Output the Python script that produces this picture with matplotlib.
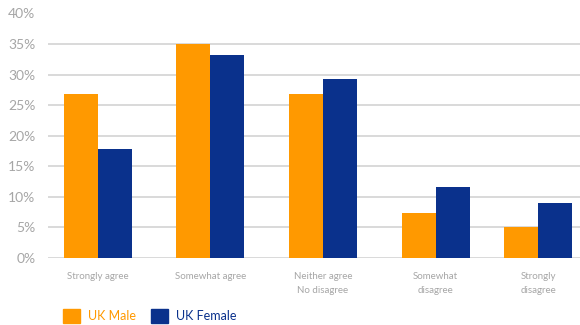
import numpy as np
import matplotlib.pyplot as plt
from matplotlib.patches import Patch

# survey responses, share of respondents (%)
categories = ['Strongly agree', 'Somewhat agree', 'Neither agree\nNo disagree',
              'Somewhat\ndisagree', 'Strongly\ndisagree']
uk_male = [26.8, 35.0, 26.8, 7.4, 5.1]
uk_female = [17.8, 33.2, 29.3, 11.6, 9.0]

orange = '#FF9900'
blue = '#0A318C'
grey_text = '#A6A6A6'

plt.rcParams['font.family'] = ['Lato', 'DejaVu Sans']

fig = plt.figure(figsize=(5.8, 3.25), dpi=100)
ax = fig.add_axes([48 / 580, 1 - 258 / 325, 532 / 580, (258 - 13.5) / 325])

# group centres (last group sits a bit closer to its neighbour)
x = np.array([0, 1, 2, 3, 3.915])
w = 0.302
ax.bar(x - w / 2, uk_male, w, color=orange, zorder=3)
ax.bar(x + w / 2, uk_female, w, color=blue, zorder=3)

ax.set_xlim(-0.444, 4.284)
ax.set_ylim(0, 40)
ax.set_yticks(np.arange(0, 41, 5))
ax.set_yticklabels([f'{v}%' for v in range(0, 41, 5)])
ax.set_xticks(x)
ax.set_xticklabels(categories, linespacing=1.7)

ax.grid(axis='y', color='#D9D9D9', linewidth=1.4, zorder=0)
for s in ax.spines.values():
    s.set_visible(False)
ax.tick_params(axis='y', length=0, pad=9, labelsize=10, labelcolor=grey_text)
ax.tick_params(axis='x', length=0, pad=10, labelsize=7, labelcolor=grey_text)
for lbl in ax.get_xticklabels():
    lbl.set_verticalalignment('top')

handles = [Patch(color=orange, label='UK Male'), Patch(color=blue, label='UK Female')]
fig.legend(handles=handles, loc='lower left', bbox_to_anchor=(58 / 580, -0.008),
           ncol=2, frameon=False, fontsize=9, labelcolor=[orange, blue],
           handlelength=1.35, handleheight=1.35, handletextpad=0.65,
           columnspacing=1.2, borderaxespad=0.0)

fig.savefig('out.png', dpi=100)
